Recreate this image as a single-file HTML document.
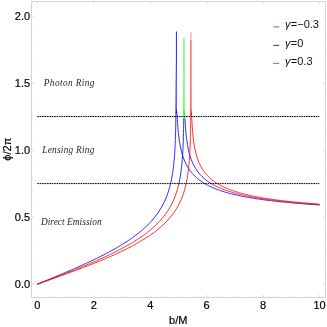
<!DOCTYPE html>
<html><head><meta charset="utf-8"><title>plot</title>
<style>
html,body{margin:0;padding:0;background:#fff;}
body{width:327px;height:327px;overflow:hidden;}
svg{display:block;will-change:transform;}
text{font-family:"Liberation Sans",sans-serif;}
.t{font-size:11px;fill:#000;stroke:#000;stroke-width:0.18px;}
.r{font-family:"Liberation Serif",serif;font-style:italic;font-size:9.3px;fill:#262626;}
.i{font-style:italic;}
.lg{font-size:11px;fill:#111;}
</style></head>
<body>
<svg width="327" height="327" viewBox="0 0 327 327">
<rect x="0" y="0" width="327" height="327" fill="#ffffff"/>
<!-- curves -->
<path d="M37.30,284.20 L37.30,284.20 L38.40,283.75 L39.49,283.30 L40.59,282.85 L41.69,282.39 L42.78,281.94 L43.88,281.49 L44.97,281.04 L46.07,280.59 L47.16,280.14 L48.26,279.68 L49.36,279.23 L50.45,278.77 L51.55,278.32 L52.64,277.86 L53.74,277.41 L54.83,276.95 L55.93,276.49 L57.03,276.04 L58.12,275.58 L59.22,275.12 L60.31,274.66 L61.41,274.19 L62.50,273.73 L63.60,273.27 L64.70,272.80 L65.79,272.33 L66.89,271.86 L67.98,271.39 L69.08,270.92 L70.17,270.45 L71.27,269.98 L72.37,269.50 L73.46,269.02 L74.56,268.54 L75.65,268.06 L76.75,267.58 L77.85,267.09 L78.94,266.61 L80.04,266.12 L81.13,265.62 L82.23,265.13 L83.32,264.63 L84.42,264.13 L85.52,263.63 L86.61,263.13 L87.71,262.62 L88.80,262.11 L89.90,261.60 L90.99,261.08 L92.09,260.56 L93.19,260.04 L94.28,259.51 L95.38,258.98 L96.47,258.45 L97.57,257.91 L98.66,257.37 L99.76,256.83 L100.86,256.28 L101.95,255.72 L103.05,255.17 L104.14,254.60 L105.24,254.03 L106.33,253.46 L107.43,252.88 L108.53,252.30 L109.62,251.71 L110.72,251.12 L111.81,250.52 L112.91,249.91 L114.00,249.30 L115.10,248.68 L116.20,248.05 L117.29,247.41 L118.39,246.77 L119.48,246.12 L120.58,245.46 L121.67,244.80 L122.77,244.12 L123.87,243.43 L124.96,242.74 L126.06,242.03 L127.15,241.32 L128.25,240.59 L129.34,239.85 L130.44,239.10 L131.54,238.34 L132.63,237.56 L133.73,236.77 L134.82,235.96 L135.92,235.13 L137.01,234.29 L138.11,233.44 L139.21,232.56 L140.30,231.66 L141.40,230.75 L142.49,229.80 L143.59,228.84 L144.68,227.85 L145.78,226.83 L146.88,225.78 L147.97,224.70 L149.07,223.59 L150.16,222.44 L151.26,221.25 L152.36,220.01 L153.45,218.73 L154.55,217.39 L155.64,215.99 L156.74,214.53 L157.83,213.00 L158.93,211.39 L160.03,209.68 L161.12,207.87 L162.22,205.94 L163.31,203.86 L164.41,201.63 L165.50,199.19 L166.60,196.52 L167.70,193.55 L167.70,193.55 L168.22,192.01 L168.70,190.48 L169.16,188.96 L169.59,187.44 L170.00,185.93 L170.37,184.43 L170.73,182.92 L171.06,181.43 L171.38,179.94 L171.67,178.45 L171.95,176.97 L172.21,175.49 L172.45,174.02 L172.68,172.54 L172.89,171.08 L173.09,169.61 L173.28,168.15 L173.46,166.69 L173.62,165.24 L173.78,163.78 L173.93,162.33 L174.06,160.88 L174.19,159.44 L174.31,157.99 L174.43,156.55 L174.53,155.11 L174.63,153.67 L174.73,152.23 L174.82,150.80 L174.90,149.36 L174.98,147.93 L175.05,146.50 L175.12,145.07 L175.18,143.64 L175.24,142.21 L175.30,140.79 L175.35,139.36 L175.40,137.94 L175.45,136.51 L175.49,135.09 L175.53,133.67 L175.57,132.25 L175.61,130.83 L175.64,129.41 L175.68,127.99 L175.71,126.57 L175.73,125.15 L175.76,123.73 L175.78,122.32 L175.81,120.90 L175.83,119.49 L175.85,118.07 L175.87,116.66 L175.89,115.24 L175.90,113.83 L175.92,112.52" fill="none" stroke="#0000ff" stroke-width="0.85" stroke-linejoin="round" stroke-linecap="butt"/>
<path d="M176.68,112.52 L176.74,112.92 L177.00,114.57 L177.18,116.22 L177.27,117.87 L177.36,119.51 L177.45,121.15 L177.55,122.79 L177.66,124.43 L177.78,126.06 L177.90,127.70 L178.04,129.32 L178.19,130.95 L178.35,132.57 L178.52,134.19 L178.70,135.81 L178.90,137.42 L179.11,139.03 L179.34,140.63 L179.59,142.23 L179.86,143.83 L180.15,145.42 L180.46,147.00 L180.80,148.58 L181.16,150.15 L181.55,151.71 L181.97,153.27 L182.43,154.82 L182.92,156.36 L183.45,157.90 L184.02,159.42 L184.63,160.94 L185.48,162.84 L186.33,164.57 L187.18,166.15 L188.03,167.59 L188.88,168.93 L189.73,170.16 L190.58,171.32 L191.42,172.40 L192.27,173.41 L193.12,174.37 L193.97,175.27 L194.82,176.12 L195.67,176.93 L196.52,177.70 L197.37,178.43 L198.21,179.13 L199.06,179.80 L199.91,180.44 L200.76,181.05 L201.61,181.64 L202.46,182.20 L203.31,182.74 L204.16,183.27 L205.01,183.77 L205.85,184.26 L206.70,184.73 L207.55,185.18 L208.40,185.62 L209.25,186.04 L210.10,186.45 L210.95,186.85 L211.80,187.24 L212.65,187.61 L213.49,187.98 L214.34,188.33 L215.19,188.68 L216.04,189.01 L216.89,189.34 L217.74,189.66 L218.59,189.96 L219.44,190.27 L220.28,190.56 L221.13,190.85 L221.98,191.13 L222.83,191.40 L223.68,191.67 L224.53,191.93 L225.38,192.18 L226.23,192.43 L227.08,192.67 L227.92,192.91 L228.77,193.14 L229.62,193.37 L230.47,193.60 L231.32,193.81 L232.17,194.03 L233.02,194.24 L233.87,194.44 L234.72,194.65 L235.56,194.84 L236.41,195.04 L237.26,195.23 L238.11,195.41 L238.96,195.60 L239.81,195.78 L240.66,195.95 L241.51,196.13 L242.35,196.30 L243.20,196.47 L244.05,196.63 L244.90,196.79 L245.75,196.95 L246.60,197.11 L247.45,197.26 L248.30,197.41 L249.15,197.56 L249.99,197.71 L250.84,197.85 L251.69,197.99 L252.54,198.13 L253.39,198.27 L254.24,198.40 L255.09,198.54 L255.94,198.67 L256.79,198.80 L257.63,198.93 L258.48,199.05 L259.33,199.17 L260.18,199.30 L261.03,199.42 L261.88,199.54 L262.73,199.65 L263.58,199.77 L264.42,199.88 L265.27,199.99 L266.12,200.10 L266.97,200.21 L267.82,200.32 L268.67,200.42 L269.52,200.53 L270.37,200.63 L271.22,200.73 L272.06,200.83 L272.91,200.93 L273.76,201.03 L274.61,201.13 L275.46,201.22 L276.31,201.32 L277.16,201.41 L278.01,201.50 L278.86,201.59 L279.70,201.68 L280.55,201.77 L281.40,201.86 L282.25,201.95 L283.10,202.03 L283.95,202.12 L284.80,202.20 L285.65,202.28 L286.49,202.37 L287.34,202.45 L288.19,202.53 L289.04,202.61 L289.89,202.68 L290.74,202.76 L291.59,202.84 L292.44,202.91 L293.29,202.99 L294.13,203.06 L294.98,203.13 L295.83,203.21 L296.68,203.28 L297.53,203.35 L298.38,203.42 L299.23,203.49 L300.08,203.56 L300.93,203.62 L301.77,203.69 L302.62,203.76 L303.47,203.82 L304.32,203.89 L305.17,203.95 L306.02,204.02 L306.87,204.08 L307.72,204.14 L308.56,204.20 L309.41,204.27 L310.26,204.33 L311.11,204.39 L311.96,204.45 L312.81,204.50 L313.66,204.56 L314.51,204.62 L315.36,204.68 L316.20,204.73 L317.05,204.79 L317.90,204.85 L318.75,204.90 L319.60,204.96" fill="none" stroke="#0000ff" stroke-width="0.85" stroke-linejoin="round" stroke-linecap="butt"/>
<path d="M175.49,113.06 L175.50,112.03 L175.51,110.99 L175.52,109.96 L175.53,108.93 L175.54,107.89 L175.55,106.86 L175.56,105.83 L175.57,104.79 L175.57,103.76 L175.58,102.73 L175.59,101.69 L175.60,100.66 L175.60,99.63 L175.61,98.60 L175.61,97.56 L175.62,96.53 L175.63,95.50 L175.63,94.46 L175.64,93.43 L175.64,92.40 L175.65,91.36 L175.65,90.33 L175.66,89.30 L175.66,88.27 L175.67,87.23 L175.68,86.20 L175.69,85.17 L175.70,84.13 L175.70,83.10 L175.71,82.07 L175.72,81.03 L175.73,80.00 L175.74,78.97 L175.75,77.94 L175.76,76.90 L175.77,75.87 L175.78,74.84 L175.79,73.80 L175.80,72.77 L175.81,71.74 L175.82,70.70 L175.83,69.67 L175.84,68.64 L175.85,67.60 L175.85,66.57 L175.86,65.54 L175.87,64.51 L175.88,63.47 L175.88,62.44 L175.89,61.41 L175.90,60.37 L175.90,59.34 L175.91,58.31 L175.91,57.27 L175.92,56.24 L175.92,55.21 L175.92,54.18 L175.92,53.14 L175.92,52.11 L175.92,51.08 L175.92,50.04 L175.93,49.01 L175.93,47.98 L175.93,46.94 L175.93,45.91 L175.93,44.88 L175.93,43.85 L175.93,42.81 L175.93,41.78 L175.93,40.75 L175.93,39.71 L175.93,38.68 L175.93,37.65 L175.93,36.61 L175.93,35.58 L175.93,34.55 L175.93,33.51 L175.93,32.48 L175.93,31.45 L176.79,31.45 L176.79,32.48 L176.79,33.51 L176.79,34.55 L176.79,35.58 L176.79,36.61 L176.79,37.65 L176.79,38.68 L176.79,39.71 L176.79,40.75 L176.79,41.78 L176.79,42.81 L176.79,43.85 L176.79,44.88 L176.79,45.91 L176.79,46.94 L176.79,47.98 L176.79,49.01 L176.79,50.04 L176.79,51.08 L176.79,52.11 L176.80,53.14 L176.79,54.18 L176.79,55.21 L176.79,56.24 L176.79,57.27 L176.79,58.31 L176.78,59.34 L176.78,60.37 L176.77,61.41 L176.77,62.44 L176.76,63.47 L176.76,64.51 L176.75,65.54 L176.75,66.57 L176.74,67.60 L176.73,68.64 L176.73,69.67 L176.72,70.70 L176.71,71.74 L176.70,72.77 L176.70,73.80 L176.69,74.84 L176.68,75.87 L176.68,76.90 L176.67,77.94 L176.66,78.97 L176.66,80.00 L176.65,81.03 L176.65,82.07 L176.64,83.10 L176.64,84.13 L176.63,85.17 L176.63,86.20 L176.63,87.23 L176.63,88.27 L176.62,89.30 L176.62,90.33 L176.62,91.36 L176.62,92.40 L176.63,93.43 L176.63,94.46 L176.63,95.50 L176.63,96.53 L176.63,97.56 L176.64,98.60 L176.64,99.63 L176.64,100.66 L176.64,101.69 L176.65,102.73 L176.65,103.76 L176.65,104.79 L176.65,105.83 L176.66,106.86 L176.66,107.89 L176.70,108.93 L176.77,109.96 L176.88,110.99 L177.03,112.03 L177.18,113.06 Z" fill="#0000ff" stroke="none"/>
<path d="M37.30,284.20 L37.30,284.20 L38.46,283.76 L39.63,283.32 L40.79,282.88 L41.95,282.44 L43.11,282.00 L44.27,281.56 L45.43,281.12 L46.59,280.68 L47.76,280.24 L48.92,279.80 L50.08,279.36 L51.24,278.92 L52.40,278.48 L53.56,278.03 L54.72,277.59 L55.89,277.14 L57.05,276.70 L58.21,276.25 L59.37,275.81 L60.53,275.36 L61.69,274.91 L62.86,274.46 L64.02,274.01 L65.18,273.56 L66.34,273.10 L67.50,272.65 L68.66,272.19 L69.82,271.74 L70.99,271.28 L72.15,270.82 L73.31,270.35 L74.47,269.89 L75.63,269.43 L76.79,268.96 L77.95,268.49 L79.12,268.02 L80.28,267.55 L81.44,267.07 L82.60,266.60 L83.76,266.12 L84.92,265.64 L86.08,265.15 L87.25,264.67 L88.41,264.18 L89.57,263.69 L90.73,263.19 L91.89,262.70 L93.05,262.20 L94.22,261.69 L95.38,261.19 L96.54,260.68 L97.70,260.17 L98.86,259.65 L100.02,259.13 L101.18,258.61 L102.35,258.08 L103.51,257.55 L104.67,257.02 L105.83,256.48 L106.99,255.93 L108.15,255.39 L109.31,254.83 L110.48,254.27 L111.64,253.71 L112.80,253.14 L113.96,252.57 L115.12,251.99 L116.28,251.40 L117.44,250.81 L118.61,250.22 L119.77,249.61 L120.93,249.00 L122.09,248.38 L123.25,247.76 L124.41,247.12 L125.57,246.48 L126.74,245.83 L127.90,245.17 L129.06,244.50 L130.22,243.83 L131.38,243.14 L132.54,242.44 L133.71,241.73 L134.87,241.01 L136.03,240.28 L137.19,239.53 L138.35,238.77 L139.51,238.00 L140.67,237.21 L141.84,236.41 L143.00,235.58 L144.16,234.75 L145.32,233.89 L146.48,233.01 L147.64,232.12 L148.80,231.20 L149.97,230.25 L151.13,229.28 L152.29,228.29 L153.45,227.26 L154.61,226.20 L155.77,225.11 L156.93,223.98 L158.10,222.81 L159.26,221.60 L160.42,220.34 L161.58,219.02 L162.74,217.65 L163.90,216.21 L165.07,214.69 L166.23,213.10 L167.39,211.41 L168.55,209.61 L169.71,207.69 L170.87,205.63 L172.03,203.40 L173.20,200.95 L174.36,198.26 L175.52,195.25 L175.52,195.25 L176.04,193.78 L176.53,192.31 L176.98,190.85 L177.41,189.39 L177.82,187.94 L178.20,186.50 L178.55,185.06 L178.88,183.66" fill="none" stroke="#ff0000" stroke-width="0.85" stroke-linejoin="round" stroke-linecap="butt"/>
<path d="M211.41,183.66 L211.65,183.80 L212.45,184.27 L213.25,184.72 L214.05,185.16 L214.85,185.58 L215.65,185.99 L216.45,186.38 L217.25,186.77 L218.05,187.14 L218.84,187.50 L219.64,187.86 L220.44,188.20 L221.24,188.53 L222.04,188.86 L222.84,189.17 L223.64,189.48 L224.44,189.78 L225.24,190.07 L226.04,190.36 L226.84,190.64 L227.64,190.91 L228.44,191.17 L229.24,191.43 L230.04,191.69 L230.84,191.93 L231.64,192.18 L232.44,192.41 L233.24,192.65 L234.04,192.87 L234.84,193.10 L235.64,193.32 L236.44,193.53 L237.24,193.74 L238.04,193.94 L238.84,194.15 L239.64,194.34 L240.44,194.54 L241.23,194.73 L242.03,194.91 L242.83,195.10 L243.63,195.28 L244.43,195.45 L245.23,195.63 L246.03,195.80 L246.83,195.97 L247.63,196.13 L248.43,196.29 L249.23,196.45 L250.03,196.61 L250.83,196.76 L251.63,196.91 L252.43,197.06 L253.23,197.21 L254.03,197.36 L254.83,197.50 L255.63,197.64 L256.43,197.78 L257.23,197.91 L258.03,198.04 L258.83,198.18 L259.63,198.31 L260.43,198.43 L261.23,198.56 L262.03,198.68 L262.83,198.81 L263.62,198.93 L264.42,199.05 L265.22,199.16 L266.02,199.28 L266.82,199.39 L267.62,199.51 L268.42,199.62 L269.22,199.73 L270.02,199.83 L270.82,199.94 L271.62,200.05 L272.42,200.15 L273.22,200.25 L274.02,200.35 L274.82,200.45 L275.62,200.55 L276.42,200.65 L277.22,200.75 L278.02,200.84 L278.82,200.94 L279.62,201.03 L280.42,201.12 L281.22,201.21 L282.02,201.30 L282.82,201.39 L283.62,201.48 L284.42,201.56 L285.22,201.65 L286.01,201.73 L286.81,201.82 L287.61,201.90 L288.41,201.98 L289.21,202.06 L290.01,202.14 L290.81,202.22 L291.61,202.30 L292.41,202.38 L293.21,202.45 L294.01,202.53 L294.81,202.60 L295.61,202.68 L296.41,202.75 L297.21,202.82 L298.01,202.89 L298.81,202.96 L299.61,203.03 L300.41,203.10 L301.21,203.17 L302.01,203.24 L302.81,203.31 L303.61,203.37 L304.41,203.44 L305.21,203.51 L306.01,203.57 L306.81,203.63 L307.61,203.70 L308.40,203.76 L309.20,203.82 L310.00,203.88 L310.80,203.94 L311.60,204.01 L312.40,204.06 L313.20,204.12 L314.00,204.18 L314.80,204.24 L315.60,204.30 L316.40,204.36 L317.20,204.41 L318.00,204.47 L318.80,204.52 L319.60,204.58" fill="none" stroke="#ff0000" stroke-width="0.85" stroke-linejoin="round" stroke-linecap="butt"/>
<path d="M178.88,183.66 L178.89,183.62 L179.20,182.19 L179.49,180.76 L179.77,179.34 L180.03,177.92 L180.27,176.51 L180.50,175.09 L180.71,173.69 L180.92,172.28 L181.10,170.88 L181.28,169.48 L181.45,168.08 L181.60,166.68 L181.75,165.29 L181.89,163.90 L182.02,162.51 L182.14,161.12 L182.25,159.74 L182.36,158.35 L182.46,156.97 L182.55,155.59 L182.64,154.21 L182.72,152.84 L182.80,151.46 L182.87,150.09 L182.94,148.71 L183.01,147.34 L183.07,145.97 L183.12,144.60 L183.18,143.23 L183.23,141.86 L183.27,140.50 L183.32,139.13 L183.36,137.76 L183.40,136.40 L183.43,135.04 L183.47,133.67 L183.50,132.31 L183.53,130.95 L183.56,129.58 L183.58,128.22 L183.61,126.86 L183.63,125.50 L183.65,124.14 L183.67,122.78 L183.69,121.42 L183.71,120.07 L183.73,118.71 L183.73,118.11" fill="none" stroke="#0000ff" stroke-width="0.85" stroke-linejoin="round" stroke-linecap="butt"/>
<path d="M184.95,118.11 L185.01,119.46 L185.09,121.05 L185.18,122.63 L185.27,124.20 L185.38,125.78 L185.48,127.35 L185.60,128.92 L185.73,130.49 L185.86,132.06 L186.01,133.62 L186.17,135.18 L186.34,136.74 L186.52,138.29 L186.72,139.84 L186.94,141.39 L187.17,142.93 L187.42,144.46 L187.68,146.00 L187.97,147.53 L188.29,149.05 L188.62,150.57 L188.98,152.08 L189.38,153.58 L189.80,155.08 L190.25,156.57 L190.74,158.06 L191.27,159.53 L191.84,161.00 L192.46,162.46 L193.26,164.20 L194.06,165.78 L194.86,167.22 L195.65,168.56 L196.45,169.79 L197.25,170.95 L198.05,172.02 L198.85,173.03 L199.65,173.98 L200.45,174.88 L201.25,175.72 L202.05,176.53 L202.85,177.29 L203.65,178.02 L204.45,178.71 L205.25,179.38 L206.05,180.01 L206.85,180.62 L207.65,181.20 L208.45,181.76 L209.25,182.30 L210.05,182.82 L210.85,183.32 L211.41,183.66" fill="none" stroke="#0000ff" stroke-width="0.85" stroke-linejoin="round" stroke-linecap="butt"/>
<path d="M183.73,118.11 L183.74,117.35 L183.76,115.99 L183.77,114.63 L183.78,113.50" fill="none" stroke="#00ff00" stroke-width="0.85" stroke-linejoin="round" stroke-linecap="butt"/>
<path d="M184.56,113.50 L184.72,114.71 L184.87,116.30 L184.94,117.88 L184.95,118.11" fill="none" stroke="#00ff00" stroke-width="0.85" stroke-linejoin="round" stroke-linecap="butt"/>
<path d="M183.35,114.03 L183.36,113.07 L183.37,112.11 L183.38,111.15 L183.39,110.19 L183.40,109.22 L183.40,108.26 L183.41,107.30 L183.42,106.34 L183.42,105.38 L183.43,104.42 L183.44,103.46 L183.44,102.50 L183.45,101.53 L183.45,100.57 L183.46,99.61 L183.46,98.65 L183.47,97.69 L183.47,96.73 L183.47,95.77 L183.48,94.80 L183.48,93.84 L183.48,92.88 L183.49,91.92 L183.49,90.96 L183.49,90.00 L183.50,89.04 L183.50,88.07 L183.50,87.11 L183.51,86.15 L183.51,85.19 L183.51,84.23 L183.51,83.27 L183.52,82.31 L183.52,81.35 L183.52,80.38 L183.52,79.42 L183.52,78.46 L183.52,77.50 L183.53,76.54 L183.53,75.58 L183.53,74.62 L183.53,73.65 L183.53,72.69 L183.53,71.73 L183.53,70.77 L183.54,69.81 L183.54,68.85 L183.54,67.89 L183.54,66.92 L183.54,65.96 L183.54,65.00 L183.54,64.04 L183.54,63.08 L183.54,62.12 L183.54,61.16 L183.55,60.20 L183.55,59.23 L183.55,58.27 L183.55,57.31 L183.55,56.35 L183.55,55.39 L183.55,54.43 L183.55,53.47 L183.55,52.50 L183.55,51.54 L183.55,50.58 L183.55,49.62 L183.55,48.66 L183.55,47.70 L183.55,46.74 L183.55,45.78 L183.55,44.81 L183.55,43.85 L183.55,42.89 L183.56,41.93 L183.56,40.97 L183.56,40.01 L183.56,39.05 L183.56,38.08 L184.41,38.08 L184.42,39.05 L184.42,40.01 L184.42,40.97 L184.42,41.93 L184.42,42.89 L184.42,43.85 L184.42,44.81 L184.42,45.78 L184.42,46.74 L184.42,47.70 L184.42,48.66 L184.42,49.62 L184.42,50.58 L184.42,51.54 L184.42,52.50 L184.42,53.47 L184.42,54.43 L184.42,55.39 L184.42,56.35 L184.42,57.31 L184.42,58.27 L184.42,59.23 L184.42,60.20 L184.42,61.16 L184.42,62.12 L184.42,63.08 L184.42,64.04 L184.42,65.00 L184.42,65.96 L184.42,66.92 L184.42,67.89 L184.42,68.85 L184.42,69.81 L184.42,70.77 L184.42,71.73 L184.43,72.69 L184.43,73.65 L184.43,74.62 L184.43,75.58 L184.43,76.54 L184.43,77.50 L184.43,78.46 L184.43,79.42 L184.43,80.38 L184.43,81.35 L184.43,82.31 L184.43,83.27 L184.43,84.23 L184.44,85.19 L184.44,86.15 L184.44,87.11 L184.44,88.07 L184.44,89.04 L184.44,90.00 L184.44,90.96 L184.44,91.92 L184.45,92.88 L184.45,93.84 L184.45,94.80 L184.45,95.77 L184.45,96.73 L184.45,97.69 L184.46,98.65 L184.46,99.61 L184.46,100.57 L184.46,101.53 L184.46,102.50 L184.47,103.46 L184.47,104.42 L184.47,105.38 L184.48,106.34 L184.48,107.30 L184.49,108.26 L184.53,109.22 L184.59,110.19 L184.69,111.15 L184.80,112.11 L184.93,113.07 L185.05,114.03 Z" fill="#00ff00" stroke="none"/>
<path d="M37.30,284.20 L37.30,284.20 L38.52,283.77 L39.74,283.34 L40.96,282.91 L42.18,282.48 L43.40,282.04 L44.62,281.61 L45.84,281.18 L47.06,280.75 L48.28,280.32 L49.50,279.88 L50.72,279.45 L51.94,279.02 L53.16,278.58 L54.38,278.15 L55.60,277.71 L56.82,277.28 L58.04,276.84 L59.26,276.40 L60.48,275.96 L61.70,275.52 L62.92,275.08 L64.14,274.64 L65.36,274.20 L66.58,273.75 L67.80,273.31 L69.02,272.86 L70.24,272.41 L71.46,271.97 L72.68,271.52 L73.90,271.06 L75.12,270.61 L76.34,270.16 L77.56,269.70 L78.78,269.24 L80.00,268.78 L81.22,268.32 L82.44,267.85 L83.66,267.39 L84.88,266.92 L86.10,266.45 L87.32,265.98 L88.54,265.50 L89.76,265.03 L90.98,264.55 L92.20,264.06 L93.42,263.58 L94.64,263.09 L95.86,262.60 L97.08,262.11 L98.30,261.61 L99.52,261.11 L100.74,260.61 L101.96,260.10 L103.18,259.59 L104.40,259.08 L105.62,258.56 L106.84,258.04 L108.06,257.52 L109.28,256.99 L110.50,256.45 L111.72,255.91 L112.94,255.37 L114.16,254.82 L115.38,254.27 L116.60,253.71 L117.82,253.15 L119.04,252.58 L120.26,252.01 L121.48,251.42 L122.69,250.84 L123.91,250.24 L125.13,249.64 L126.35,249.04 L127.57,248.42 L128.79,247.80 L130.01,247.17 L131.23,246.53 L132.45,245.88 L133.67,245.22 L134.89,244.56 L136.11,243.88 L137.33,243.19 L138.55,242.50 L139.77,241.79 L140.99,241.07 L142.21,240.33 L143.43,239.59 L144.65,238.83 L145.87,238.05 L147.09,237.26 L148.31,236.45 L149.53,235.63 L150.75,234.78 L151.97,233.92 L153.19,233.04 L154.41,232.13 L155.63,231.20 L156.85,230.24 L158.07,229.26 L159.29,228.25 L160.51,227.21 L161.73,226.13 L162.95,225.01 L164.17,223.85 L165.39,222.65 L166.61,221.41 L167.83,220.10 L169.05,218.74 L170.27,217.31 L171.49,215.81 L172.71,214.22 L173.93,212.54 L175.15,210.75 L176.37,208.83 L177.59,206.77 L178.81,204.53 L180.03,202.07 L181.25,199.34 L182.47,196.29 L182.47,196.29 L182.99,194.86 L183.48,193.43 L183.94,192.01 L184.37,190.60 L184.77,189.19 L185.15,187.79 L185.50,186.39 L185.84,185.00 L186.15,183.61 L186.44,182.22 L186.72,180.84 L186.98,179.46 L187.22,178.09 L187.45,176.72 L187.67,175.35 L187.87,173.99 L188.05,172.62 L188.23,171.26 L188.40,169.90 L188.55,168.55 L188.70,167.20 L188.84,165.85 L188.97,164.50 L189.09,163.15 L189.20,161.80 L189.31,160.46 L189.41,159.12 L189.50,157.78 L189.59,156.44 L189.67,155.10 L189.75,153.76 L189.82,152.43 L189.89,151.10 L189.96,149.76 L190.02,148.43 L190.07,147.10 L190.13,145.77 L190.18,144.44 L190.22,143.11 L190.27,141.78 L190.31,140.46 L190.35,139.13 L190.38,137.81 L190.42,136.48 L190.45,135.16 L190.48,133.83 L190.51,132.51 L190.53,131.19 L190.56,129.86 L190.58,128.54 L190.60,127.22 L190.62,125.90 L190.64,124.58 L190.66,123.26 L190.68,121.94 L190.69,120.62 L190.71,119.30 L190.72,117.98 L190.74,116.66 L190.75,115.35 L190.76,114.37" fill="none" stroke="#ff0000" stroke-width="0.85" stroke-linejoin="round" stroke-linecap="butt"/>
<path d="M191.55,114.37 L191.67,115.52 L191.76,117.06 L191.82,118.60 L191.89,120.14 L191.97,121.68 L192.05,123.22 L192.13,124.76 L192.23,126.29 L192.33,127.82 L192.43,129.35 L192.55,130.88 L192.68,132.40 L192.81,133.92 L192.96,135.44 L193.12,136.96 L193.29,138.47 L193.47,139.98 L193.67,141.49 L193.89,142.99 L194.12,144.49 L194.37,145.99 L194.64,147.48 L194.92,148.97 L195.24,150.45 L195.57,151.92 L195.94,153.39 L196.33,154.86 L196.75,156.32 L197.20,157.77 L197.69,159.21 L198.22,160.65 L198.79,162.08 L199.41,163.50 L200.16,165.10 L200.92,166.57 L201.68,167.91 L202.43,169.16 L203.19,170.32 L203.94,171.41 L204.70,172.42 L205.45,173.37 L206.21,174.27 L206.97,175.13 L207.72,175.93 L208.48,176.70 L209.23,177.43 L209.99,178.12 L210.75,178.79 L211.50,179.42 L212.26,180.03 L213.01,180.62 L213.77,181.18 L214.53,181.72 L215.28,182.24 L216.04,182.74 L216.79,183.22 L217.55,183.69 L218.31,184.14 L219.06,184.57 L219.82,185.00 L220.57,185.41 L221.33,185.80 L222.09,186.19 L222.84,186.56 L223.60,186.92 L224.35,187.28 L225.11,187.62 L225.86,187.95 L226.62,188.28 L227.38,188.60 L228.13,188.90 L228.89,189.20 L229.64,189.50 L230.40,189.78 L231.16,190.06 L231.91,190.34 L232.67,190.60 L233.42,190.86 L234.18,191.12 L234.94,191.37 L235.69,191.61 L236.45,191.85 L237.20,192.08 L237.96,192.31 L238.72,192.53 L239.47,192.75 L240.23,192.97 L240.98,193.18 L241.74,193.39 L242.50,193.59 L243.25,193.79 L244.01,193.98 L244.76,194.17 L245.52,194.36 L246.28,194.54 L247.03,194.73 L247.79,194.90 L248.54,195.08 L249.30,195.25 L250.05,195.42 L250.81,195.59 L251.57,195.75 L252.32,195.91 L253.08,196.07 L253.83,196.22 L254.59,196.37 L255.35,196.52 L256.10,196.67 L256.86,196.82 L257.61,196.96 L258.37,197.10 L259.13,197.24 L259.88,197.38 L260.64,197.51 L261.39,197.65 L262.15,197.78 L262.91,197.91 L263.66,198.03 L264.42,198.16 L265.17,198.28 L265.93,198.40 L266.69,198.52 L267.44,198.64 L268.20,198.76 L268.95,198.88 L269.71,198.99 L270.46,199.10 L271.22,199.21 L271.98,199.32 L272.73,199.43 L273.49,199.54 L274.24,199.64 L275.00,199.74 L275.76,199.85 L276.51,199.95 L277.27,200.05 L278.02,200.15 L278.78,200.24 L279.54,200.34 L280.29,200.44 L281.05,200.53 L281.80,200.62 L282.56,200.71 L283.32,200.81 L284.07,200.89 L284.83,200.98 L285.58,201.07 L286.34,201.16 L287.10,201.24 L287.85,201.33 L288.61,201.41 L289.36,201.49 L290.12,201.58 L290.87,201.66 L291.63,201.74 L292.39,201.82 L293.14,201.89 L293.90,201.97 L294.65,202.05 L295.41,202.12 L296.17,202.20 L296.92,202.27 L297.68,202.35 L298.43,202.42 L299.19,202.49 L299.95,202.56 L300.70,202.63 L301.46,202.70 L302.21,202.77 L302.97,202.84 L303.73,202.91 L304.48,202.98 L305.24,203.04 L305.99,203.11 L306.75,203.17 L307.51,203.24 L308.26,203.30 L309.02,203.36 L309.77,203.43 L310.53,203.49 L311.28,203.55 L312.04,203.61 L312.80,203.67 L313.55,203.73 L314.31,203.79 L315.06,203.85 L315.82,203.91 L316.58,203.97 L317.33,204.02 L318.09,204.08 L318.84,204.13 L319.60,204.19" fill="none" stroke="#ff0000" stroke-width="0.85" stroke-linejoin="round" stroke-linecap="butt"/>
<path d="M190.33,114.90 L190.34,113.95 L190.34,113.01 L190.35,112.06 L190.36,111.11 L190.37,110.16 L190.37,109.21 L190.38,108.27 L190.39,107.32 L190.39,106.37 L190.40,105.42 L190.40,104.47 L190.41,103.52 L190.41,102.58 L190.42,101.63 L190.42,100.68 L190.42,99.73 L190.43,98.78 L190.43,97.84 L190.44,96.89 L190.44,95.94 L190.44,94.99 L190.45,94.04 L190.45,93.10 L190.45,92.15 L190.45,91.20 L190.46,90.25 L190.46,89.30 L190.46,88.35 L190.46,87.41 L190.47,86.46 L190.47,85.51 L190.47,84.56 L190.47,83.61 L190.47,82.67 L190.48,81.72 L190.48,80.77 L190.48,79.82 L190.48,78.87 L190.48,77.93 L190.48,76.98 L190.49,76.03 L190.49,75.08 L190.49,74.13 L190.49,73.18 L190.49,72.24 L190.49,71.29 L190.49,70.34 L190.49,69.39 L190.49,68.44 L190.49,67.50 L190.50,66.55 L190.50,65.60 L190.50,64.65 L190.50,63.70 L190.50,62.76 L190.50,61.81 L190.50,60.86 L190.50,59.91 L190.50,58.96 L190.50,58.01 L190.50,57.07 L190.50,56.12 L190.50,55.17 L190.50,54.22 L190.50,53.27 L190.50,52.33 L190.50,51.38 L190.51,50.43 L190.51,49.48 L190.51,48.53 L190.51,47.59 L190.51,46.64 L190.51,45.69 L190.51,44.74 L190.51,43.79 L190.51,42.84 L190.51,41.90 L190.51,40.95 L190.51,40.00 L191.37,40.00 L191.37,40.95 L191.37,41.90 L191.37,42.84 L191.37,43.79 L191.37,44.74 L191.37,45.69 L191.37,46.64 L191.37,47.59 L191.37,48.53 L191.37,49.48 L191.37,50.43 L191.37,51.38 L191.37,52.33 L191.37,53.27 L191.37,54.22 L191.37,55.17 L191.37,56.12 L191.37,57.07 L191.37,58.01 L191.37,58.96 L191.37,59.91 L191.37,60.86 L191.37,61.81 L191.37,62.76 L191.37,63.70 L191.37,64.65 L191.37,65.60 L191.37,66.55 L191.37,67.50 L191.37,68.44 L191.37,69.39 L191.37,70.34 L191.37,71.29 L191.37,72.24 L191.38,73.18 L191.38,74.13 L191.38,75.08 L191.38,76.03 L191.38,76.98 L191.38,77.93 L191.38,78.87 L191.38,79.82 L191.38,80.77 L191.38,81.72 L191.38,82.67 L191.38,83.61 L191.38,84.56 L191.39,85.51 L191.39,86.46 L191.39,87.41 L191.39,88.35 L191.39,89.30 L191.39,90.25 L191.39,91.20 L191.39,92.15 L191.39,93.10 L191.40,94.04 L191.40,94.99 L191.40,95.94 L191.40,96.89 L191.40,97.84 L191.40,98.78 L191.41,99.73 L191.41,100.68 L191.41,101.63 L191.41,102.58 L191.42,103.52 L191.42,104.47 L191.42,105.42 L191.42,106.37 L191.43,107.32 L191.44,108.27 L191.46,109.21 L191.53,110.16 L191.60,111.11 L191.71,112.06 L191.81,113.01 L191.93,113.95 L192.03,114.90 Z" fill="#ff0000" stroke="none"/>
<path d="M190.51,40.00 L190.51,39.90 L190.51,39.81 L190.51,39.71 L190.51,39.61 L190.51,39.51 L190.51,39.42 L190.51,39.32 L190.51,39.22 L190.51,39.13 L190.51,39.03 L190.51,38.93 L190.51,38.83 L190.51,38.74 L190.51,38.64 L190.51,38.54 L190.51,38.44 L190.51,38.35 L190.51,38.25 L190.51,38.15 L190.51,38.06 L190.51,37.96 L190.51,37.86 L190.51,37.76 L190.51,37.67 L190.51,37.57 L190.51,37.47 L190.51,37.38 L190.51,37.28 L190.51,37.18 L190.51,37.08 L190.51,36.99 L190.51,36.89 L190.51,36.79 L190.51,36.69 L190.51,36.60 L190.51,36.50 L190.51,36.40 L190.51,36.31 L190.51,36.21 L190.51,36.11 L190.51,36.01 L190.51,35.92 L190.51,35.82 L190.51,35.72 L190.51,35.63 L190.51,35.53 L190.51,35.43 L190.51,35.33 L190.51,35.24 L190.51,35.14 L190.51,35.04 L190.51,34.94 L190.51,34.85 L190.51,34.75 L190.51,34.65 L190.51,34.56 L190.51,34.46 L190.51,34.36 L190.51,34.26 L190.51,34.17 L190.51,34.07 L190.51,33.97 L190.51,33.88 L190.51,33.78 L190.51,33.68 L190.51,33.58 L190.51,33.49 L190.51,33.39 L190.51,33.29 L190.51,33.19 L190.51,33.10 L190.51,33.00 L190.51,32.90 L190.51,32.81 L190.51,32.71 L190.51,32.61 L190.51,32.51 L190.51,32.42 L190.51,32.32 L191.37,32.32 L191.37,32.42 L191.37,32.51 L191.37,32.61 L191.37,32.71 L191.37,32.81 L191.37,32.90 L191.37,33.00 L191.37,33.10 L191.37,33.19 L191.37,33.29 L191.37,33.39 L191.37,33.49 L191.37,33.58 L191.37,33.68 L191.37,33.78 L191.37,33.88 L191.37,33.97 L191.37,34.07 L191.37,34.17 L191.37,34.26 L191.37,34.36 L191.37,34.46 L191.37,34.56 L191.37,34.65 L191.37,34.75 L191.37,34.85 L191.37,34.94 L191.37,35.04 L191.37,35.14 L191.37,35.24 L191.37,35.33 L191.37,35.43 L191.37,35.53 L191.37,35.63 L191.37,35.72 L191.37,35.82 L191.37,35.92 L191.37,36.01 L191.37,36.11 L191.37,36.21 L191.37,36.31 L191.37,36.40 L191.37,36.50 L191.37,36.60 L191.37,36.69 L191.37,36.79 L191.37,36.89 L191.37,36.99 L191.37,37.08 L191.37,37.18 L191.37,37.28 L191.37,37.38 L191.37,37.47 L191.37,37.57 L191.37,37.67 L191.37,37.76 L191.37,37.86 L191.37,37.96 L191.37,38.06 L191.37,38.15 L191.37,38.25 L191.37,38.35 L191.37,38.44 L191.37,38.54 L191.37,38.64 L191.37,38.74 L191.37,38.83 L191.37,38.93 L191.37,39.03 L191.37,39.13 L191.37,39.22 L191.37,39.32 L191.37,39.42 L191.37,39.51 L191.37,39.61 L191.37,39.71 L191.37,39.81 L191.37,39.90 L191.37,40.00 Z" fill="#ff0000" fill-opacity="0.55" stroke="none"/>
<!-- dashed guide lines -->
<path d="M37.30,116.55 L319.20,116.55" stroke="#000" stroke-width="1" stroke-dasharray="1.65 0.75" fill="none"/>
<path d="M37.30,183.6 L319.20,183.6" stroke="#000" stroke-width="1" stroke-dasharray="1.65 0.75" fill="none"/>
<!-- frame -->
<rect x="31.5" y="1.5" width="294.0" height="296.0" fill="none" stroke="#d5d5d5" stroke-width="1"/>
<path d="M37.30,297.50 L37.30,295.00 M37.30,1.50 L37.30,4.00 M51.41,297.50 L51.41,296.25 M51.41,1.50 L51.41,2.75 M65.53,297.50 L65.53,296.25 M65.53,1.50 L65.53,2.75 M79.64,297.50 L79.64,296.25 M79.64,1.50 L79.64,2.75 M93.76,297.50 L93.76,295.00 M93.76,1.50 L93.76,4.00 M107.88,297.50 L107.88,296.25 M107.88,1.50 L107.88,2.75 M121.99,297.50 L121.99,296.25 M121.99,1.50 L121.99,2.75 M136.11,297.50 L136.11,296.25 M136.11,1.50 L136.11,2.75 M150.22,297.50 L150.22,295.00 M150.22,1.50 L150.22,4.00 M164.33,297.50 L164.33,296.25 M164.33,1.50 L164.33,2.75 M178.45,297.50 L178.45,296.25 M178.45,1.50 L178.45,2.75 M192.56,297.50 L192.56,296.25 M192.56,1.50 L192.56,2.75 M206.68,297.50 L206.68,295.00 M206.68,1.50 L206.68,4.00 M220.80,297.50 L220.80,296.25 M220.80,1.50 L220.80,2.75 M234.91,297.50 L234.91,296.25 M234.91,1.50 L234.91,2.75 M249.02,297.50 L249.02,296.25 M249.02,1.50 L249.02,2.75 M263.14,297.50 L263.14,295.00 M263.14,1.50 L263.14,4.00 M277.25,297.50 L277.25,296.25 M277.25,1.50 L277.25,2.75 M291.37,297.50 L291.37,296.25 M291.37,1.50 L291.37,2.75 M305.49,297.50 L305.49,296.25 M305.49,1.50 L305.49,2.75 M319.60,297.50 L319.60,295.00 M319.60,1.50 L319.60,4.00 M31.50,284.20 L34.00,284.20 M325.50,284.20 L323.00,284.20 M31.50,270.79 L32.75,270.79 M325.50,270.79 L324.25,270.79 M31.50,257.39 L32.75,257.39 M325.50,257.39 L324.25,257.39 M31.50,243.98 L32.75,243.98 M325.50,243.98 L324.25,243.98 M31.50,230.58 L32.75,230.58 M325.50,230.58 L324.25,230.58 M31.50,217.17 L34.00,217.17 M325.50,217.17 L323.00,217.17 M31.50,203.77 L32.75,203.77 M325.50,203.77 L324.25,203.77 M31.50,190.36 L32.75,190.36 M325.50,190.36 L324.25,190.36 M31.50,176.96 L32.75,176.96 M325.50,176.96 L324.25,176.96 M31.50,163.55 L32.75,163.55 M325.50,163.55 L324.25,163.55 M31.50,150.15 L34.00,150.15 M325.50,150.15 L323.00,150.15 M31.50,136.74 L32.75,136.74 M325.50,136.74 L324.25,136.74 M31.50,123.34 L32.75,123.34 M325.50,123.34 L324.25,123.34 M31.50,109.93 L32.75,109.93 M325.50,109.93 L324.25,109.93 M31.50,96.53 L32.75,96.53 M325.50,96.53 L324.25,96.53 M31.50,83.12 L34.00,83.12 M325.50,83.12 L323.00,83.12 M31.50,69.72 L32.75,69.72 M325.50,69.72 L324.25,69.72 M31.50,56.31 L32.75,56.31 M325.50,56.31 L324.25,56.31 M31.50,42.91 L32.75,42.91 M325.50,42.91 L324.25,42.91 M31.50,29.50 L32.75,29.50 M325.50,29.50 L324.25,29.50 M31.50,16.10 L34.00,16.10 M325.50,16.10 L323.00,16.10 M31.50,2.69 L32.75,2.69 M325.50,2.69 L324.25,2.69" stroke="#dadada" stroke-width="1" fill="none"/>
<!-- tick labels -->
<text transform="translate(37.30,309.1) rotate(0.02)" text-anchor="middle" class="t">0</text>
<text transform="translate(93.76,309.1) rotate(0.02)" text-anchor="middle" class="t">2</text>
<text transform="translate(150.22,309.1) rotate(0.02)" text-anchor="middle" class="t">4</text>
<text transform="translate(206.68,309.1) rotate(0.02)" text-anchor="middle" class="t">6</text>
<text transform="translate(263.14,309.1) rotate(0.02)" text-anchor="middle" class="t">8</text>
<text transform="translate(319.60,309.1) rotate(0.02)" text-anchor="middle" class="t">10</text>
<text transform="translate(30.1,288.10) rotate(0.02)" text-anchor="end" class="t">0.0</text>
<text transform="translate(30.1,221.07) rotate(0.02)" text-anchor="end" class="t">0.5</text>
<text transform="translate(30.1,154.05) rotate(0.02)" text-anchor="end" class="t">1.0</text>
<text transform="translate(30.1,87.02) rotate(0.02)" text-anchor="end" class="t">1.5</text>
<text transform="translate(30.1,20.00) rotate(0.02)" text-anchor="end" class="t">2.0</text>
<!-- axis labels -->
<text transform="translate(178.2,323.6) rotate(0.02)" text-anchor="middle" class="t">b/M</text>
<text transform="translate(10.8,149.2) rotate(-90)" text-anchor="middle" class="t">ϕ/2π</text>
<!-- region labels -->
<text transform="translate(43.8,85.6) rotate(0.02)" class="r" textLength="50.6" lengthAdjust="spacing">Photon Ring</text>
<text transform="translate(42.3,152.6) rotate(0.02)" class="r" textLength="52.1" lengthAdjust="spacing">Lensing Ring</text>
<text transform="translate(40.9,225.4) rotate(0.02)" class="r" textLength="60.7" lengthAdjust="spacing">Direct Emission</text>
<!-- legend -->
<path d="M273.2,26.9 L279.3,26.9" stroke="#0000ff" stroke-opacity="0.40" stroke-width="1.6"/>
<path d="M273.2,45.4 L279.3,45.4" stroke="#000000" stroke-opacity="0.72" stroke-width="1"/>
<path d="M273.2,63.4 L279.3,63.4" stroke="#ff0000" stroke-opacity="0.72" stroke-width="1"/>
<text transform="translate(284.9,28.4) rotate(0.02)" class="lg"><tspan class="i">γ</tspan><tspan dx="0.45">=−0.3</tspan></text>
<text transform="translate(284.9,46.6) rotate(0.02)" class="lg"><tspan class="i">γ</tspan><tspan dx="0.45">=0</tspan></text>
<text transform="translate(284.9,64.8) rotate(0.02)" class="lg"><tspan class="i">γ</tspan><tspan dx="0.45">=0.3</tspan></text>
</svg>
</body></html>
